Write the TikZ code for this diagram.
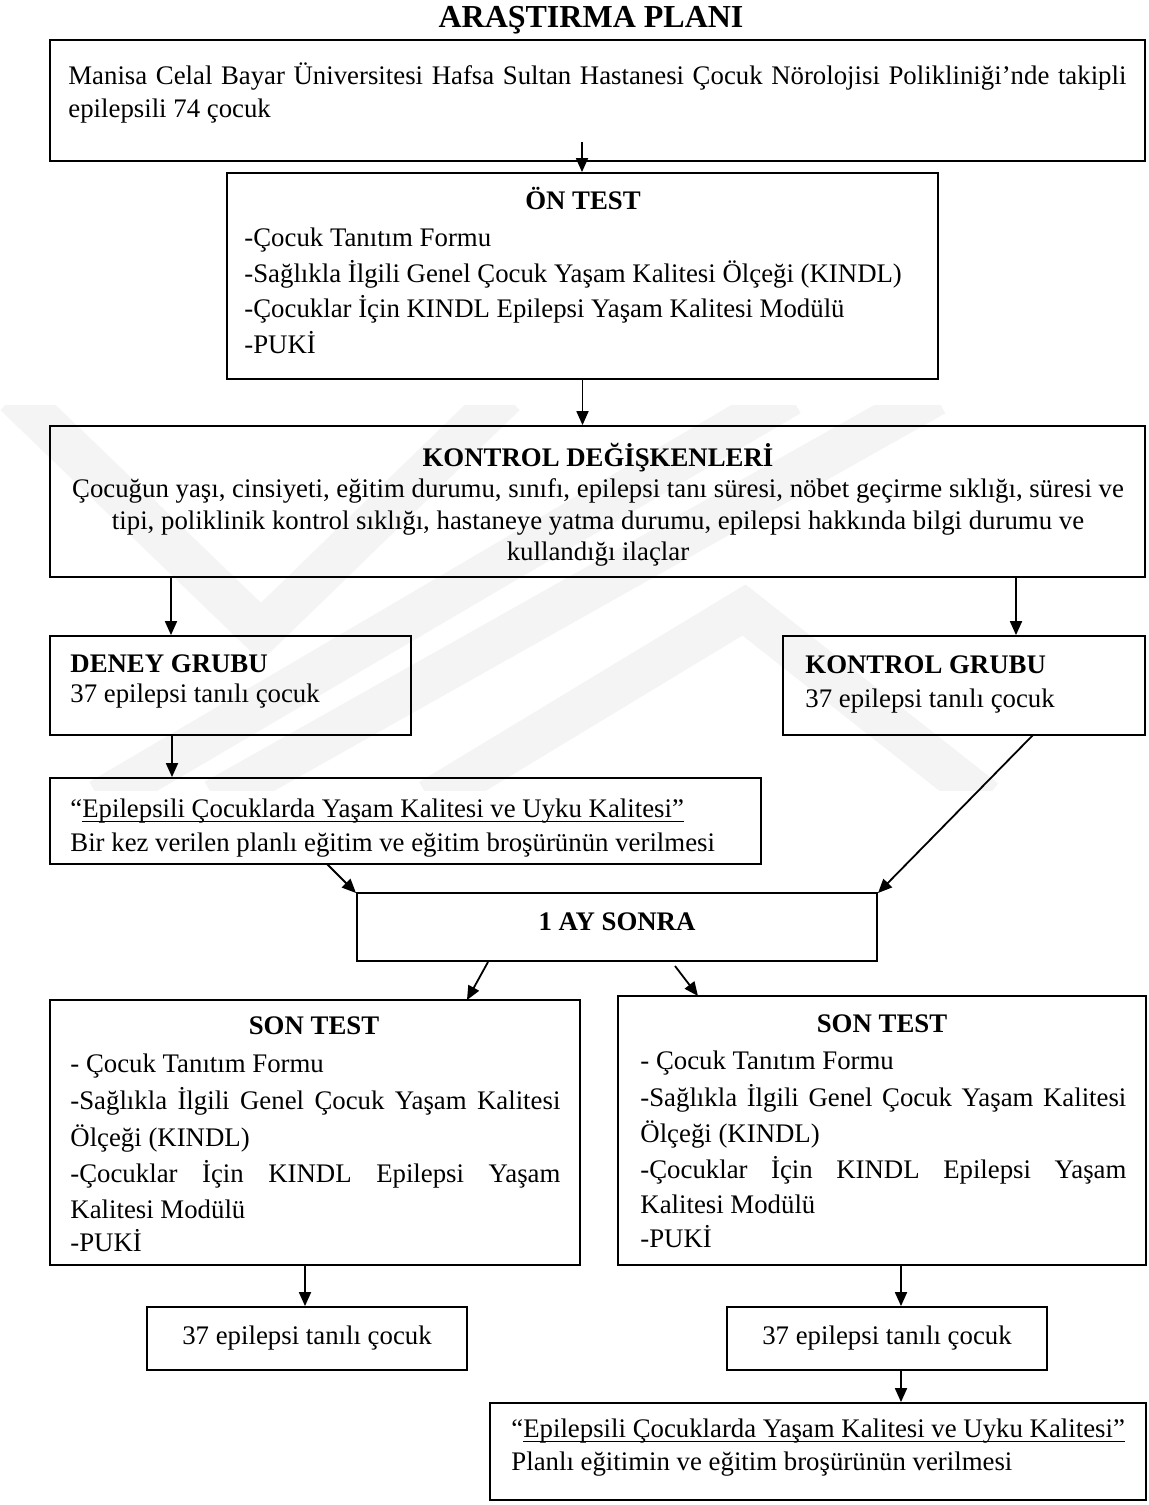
\documentclass[tikz,border=0pt]{standalone}
\usepackage{fontspec}
\setmainfont{Liberation Serif}
\usetikzlibrary{arrows.meta,fit}
\newcommand\myul[1]{\setbox0=\hbox{#1}\rlap{\rule[-2.4pt]{\wd0}{0.6pt}}\box0}
\definecolor{wmgray}{gray}{0.955}
\begin{document}
\begin{tikzpicture}[x=0.5pt,y=-0.5pt,
  box/.style={draw=black, line width=0.9pt, inner sep=0pt, rectangle},
  arr/.style={line width=0.9pt, -{Triangle[length=7pt,width=6pt]}},
  tx/.style={inner sep=0pt, font=\fontsize{13.4}{15}\selectfont, anchor=mid west},
  txc/.style={tx, anchor=mid},
  hd/.style={inner sep=0pt, font=\fontsize{13.4}{15}\selectfont\bfseries, anchor=mid},
  hdl/.style={hd, anchor=mid west},
  wm/.style={draw=wmgray, line width=21pt, line join=miter},
]
\useasboundingbox (0,0) rectangle (1149,1505);
\fill[white] (0,0) rectangle (1149,1505);

% faint watermark
\begin{scope}
  \clip (0,405) rectangle (1149,790);
  \draw[wm] (15,395) -- (261,632) -- (505,395);
  \draw[wm] (100,800) -- (790,395);
  \draw[wm] (215,800) -- (935,395);
  \draw[wm] (430,800) -- (744,610) -- (985,800);
\end{scope}

% title
\node[inner sep=0pt, font=\fontsize{16}{18}\selectfont\bfseries, anchor=mid] (title) at (591,23) {ARAŞTIRMA PLANI};

% boxes
\node[box, fit={(50,40) (1145,161)}] (b1) {};
\node[box, fit={(227,173) (938,379)}] (ontest) {};
\node[box, fit={(50,426) (1145,577)}] (kd) {};
\node[box, fit={(50,636) (411,735)}] (deney) {};
\node[box, fit={(783,636) (1145,735)}] (kgrup) {};
\node[box, fit={(50,778) (761,864)}] (egitim) {};
\node[box, fit={(357,893) (877,961)}] (ay) {};
\node[box, fit={(50,1000) (580,1265)}] (son1) {};
\node[box, fit={(618,996) (1146,1265)}] (son2) {};
\node[box, fit={(147,1307) (467,1370)}] (n37a) {};
\node[box, fit={(727,1307) (1047,1370)}] (n37b) {};
\node[box, fit={(490,1403) (1146,1500)}] (final) {};

% texts: box 1
\node[tx] (b1a) at (68,80) {\makebox[529pt][s]{Manisa Celal Bayar Üniversitesi Hafsa Sultan Hastanesi Çocuk Nörolojisi Polikliniği’nde takipli}};
\node[tx] (b1b) at (68,113) {epilepsili 74 çocuk};

% ön test
\node[hd] (ont) at (583,205) {ÖN TEST};
\node[tx] (on1) at (244,242) {-Çocuk Tanıtım Formu};
\node[tx] (on2) at (244,278) {-Sağlıkla İlgili Genel Çocuk Yaşam Kalitesi Ölçeği (KINDL)};
\node[tx] (on3) at (244,313) {-Çocuklar İçin KINDL Epilepsi Yaşam Kalitesi Modülü};
\node[tx] (on4) at (244,349) {-PUKİ};

% kontrol değişkenleri
\node[hd] (kdt) at (598,462) {KONTROL DEĞİŞKENLERİ};
\node[txc] (kd1) at (598,493) {Çocuğun yaşı, cinsiyeti, eğitim durumu, sınıfı, epilepsi tanı süresi, nöbet geçirme sıklığı, süresi ve};
\node[txc] (kd2) at (598,525) {tipi, poliklinik kontrol sıklığı, hastaneye yatma durumu, epilepsi hakkında bilgi durumu ve};
\node[txc] (kd3) at (598,556) {kullandığı ilaçlar};

% groups
\node[hdl] (dgt) at (70,668) {DENEY GRUBU};
\node[tx] (dg1) at (70,698) {37 epilepsi tanılı çocuk};
\node[hdl] (kgt) at (805,669) {KONTROL GRUBU};
\node[tx] (kg1) at (805,703) {37 epilepsi tanılı çocuk};

% eğitim
\node[tx] (eg1) at (70,813) {“\myul{Epilepsili Çocuklarda Yaşam Kalitesi ve Uyku Kalitesi”}};
\node[tx] (eg2) at (70,847) {Bir kez verilen planlı eğitim ve eğitim broşürünün verilmesi};

% 1 ay sonra
\node[hd] (ayt) at (617,926) {1 AY SONRA};

% son test left
\node[hd] (s1t) at (314,1030) {SON TEST};
\node[tx] (s11) at (70,1068) {- Çocuk Tanıtım Formu};
\node[tx] (s12) at (70,1105) {\makebox[245pt][s]{-Sağlıkla İlgili Genel Çocuk Yaşam Kalitesi}};
\node[tx] (s13) at (70,1142) {Ölçeği (KINDL)};
\node[tx] (s14) at (70,1178) {\makebox[245pt][s]{-Çocuklar İçin KINDL Epilepsi Yaşam}};
\node[tx] (s15) at (70,1214) {Kalitesi Modülü};
\node[tx] (s16) at (70,1247) {-PUKİ};

% son test right
\node[hd] (s2t) at (882,1028) {SON TEST};
\node[tx] (s21) at (640,1065) {- Çocuk Tanıtım Formu};
\node[tx] (s22) at (640,1102) {\makebox[243pt][s]{-Sağlıkla İlgili Genel Çocuk Yaşam Kalitesi}};
\node[tx] (s23) at (640,1138) {Ölçeği (KINDL)};
\node[tx] (s24) at (640,1174) {\makebox[243pt][s]{-Çocuklar İçin KINDL Epilepsi Yaşam}};
\node[tx] (s25) at (640,1209) {Kalitesi Modülü};
\node[tx] (s26) at (640,1243) {-PUKİ};

% 37 boxes
\node[txc] (n37at) at (307,1340) {37 epilepsi tanılı çocuk};
\node[txc] (n37bt) at (887,1340) {37 epilepsi tanılı çocuk};

% final
\node[tx] (fn1) at (511,1433) {“\myul{Epilepsili Çocuklarda Yaşam Kalitesi ve Uyku Kalitesi”}};
\node[tx] (fn2) at (511,1466) {Planlı eğitimin ve eğitim broşürünün verilmesi};

% connector end points
\coordinate (c1) at (582,142);
\coordinate (c2) at (171,577);
\coordinate (c3) at (1016,577);
\coordinate (c4) at (172,735);
\coordinate (c5a) at (327,864);
\coordinate (c5b) at (356,893);
\coordinate (c6a) at (1033,735);
\coordinate (c6b) at (878,893);
\coordinate (c7a) at (488,962);
\coordinate (c7b) at (467,1000);
\coordinate (c8a) at (675,966);
\coordinate (c8b) at (698,996);
\coordinate (c9) at (305,1265);
\coordinate (c10) at (901,1265);
\coordinate (c11) at (901,1370);

\draw[arr] (c1) -- (c1 |- ontest.north);
\draw[arr] (ontest.south) -- (ontest.south |- kd.north);
\draw[arr] (c2) -- (c2 |- deney.north);
\draw[arr] (c3) -- (c3 |- kgrup.north);
\draw[arr] (c4) -- (c4 |- egitim.north);
\draw[arr] (c5a) -- (c5b);
\draw[arr] (c6a) -- (c6b);
\draw[arr] (c7a) -- (c7b);
\draw[arr] (c8a) -- (c8b);
\draw[arr] (c9) -- (c9 |- n37a.north);
\draw[arr] (c10) -- (c10 |- n37b.north);
\draw[arr] (c11) -- (c11 |- final.north);
\end{tikzpicture}
\end{document}
